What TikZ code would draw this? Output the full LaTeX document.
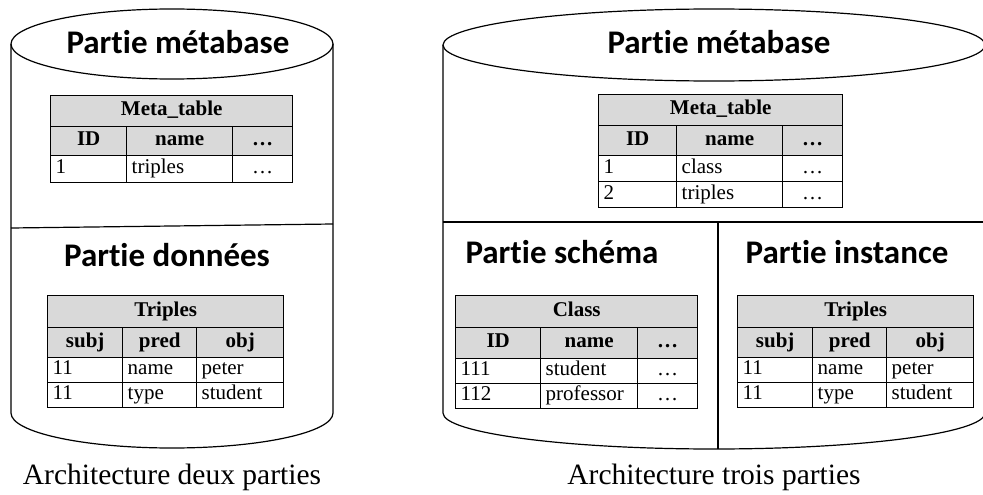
\documentclass[tikz,border=0pt]{standalone}
\usepackage{fontspec}
\setmainfont{Liberation Serif}
\newfontfamily\headfont[Ligatures=NoCommon]{Carlito}
\definecolor{cellgray}{HTML}{D9D9D9}
\newcommand{\cylline}{1.2pt}
\newcommand{\tabline}{1.4pt}

\begin{document}
\begin{tikzpicture}[x=1pt, y=-1pt,
        cell/.style     = {draw, line width=\tabline, inner xsep=3pt, inner ysep=0pt, text height=14pt, text depth=5pt, anchor=north west, font=\fontsize{21}{21}\selectfont},
        hcell/.style    = {cell, fill=cellgray, align=center, font=\fontsize{21}{21}\selectfont\bfseries},
        dcell/.style    = {cell, align=left, execute at begin node=\hspace*{2pt}},
        ccell/.style    = {cell, align=center},
        head/.style     = {font=\headfont\bfseries\fontsize{33}{33}\selectfont, anchor=base, inner sep=0pt},
        captext/.style  = {font=\fontsize{29.5}{29.5}\selectfont, anchor=base, inner sep=0pt}]
        \useasboundingbox (0,0) rectangle (983,495);
        \clip (0,0) rectangle (983,495);

        %cylinders
        \draw[line width=\cylline] (172,44) ellipse [x radius=161, y radius=35];
        \draw[line width=\cylline] (11,44) -- (11,413) arc[start angle=180, end angle=0, x radius=161, y radius=35] -- (333,44);
        \draw[line width=\cylline] (11,228) -- (333,224);

        \draw[line width=\cylline] (714,45) ellipse [x radius=271, y radius=36];
        \draw[line width=\cylline] (443,45) -- (443,413) arc[start angle=180, end angle=0, x radius=271, y radius=36] -- (985,45);
        \draw[line width=\cylline] (443,222) -- (985,222);
        \draw[line width=\cylline] (718,222) -- (718,449);

        %headings
        \node[head] (hMetaA)   at (178,54)  {Partie métabase};
        \node[head] (hDataA)   at (167,266) {Partie données};
        \node[head] (hMetaB)   at (719,54)  {Partie métabase};
        \node[head] (hSchemaB) at (562,263) {Partie schéma};
        \node[head] (hInstB)   at (847,263) {Partie instance};

        %meta table, two parts
        \node[hcell, text width=236, minimum height=31] (mtAtitle) at ( 50, 95) {Meta\_table};
        \node[hcell, text width= 70, minimum height=29] (mtAid)    at ( 50,126) {ID};
        \node[hcell, text width=100, minimum height=29] (mtAname)  at (126,126) {name};
        \node[hcell, text width= 54, minimum height=29] (mtAetc)   at (232,126) {…};
        \node[dcell, text width= 70, minimum height=27] (mtAid1)   at ( 50,155) {1};
        \node[dcell, text width=100, minimum height=27] (mtAname1) at (126,155) {triples};
        \node[ccell, text width= 54, minimum height=27] (mtAetc1)  at (232,155) {…};

        %triples table, two parts
        \node[hcell, text width=230, minimum height=32] (trAtitle) at ( 47,295) {Triples};
        \node[hcell, text width= 69, minimum height=30] (trAsubj)  at ( 47,327) {subj};
        \node[hcell, text width= 68, minimum height=30] (trApred)  at (122,327) {pred};
        \node[hcell, text width= 81, minimum height=30] (trAobj)   at (196,327) {obj};
        \node[dcell, text width= 69, minimum height=25] (trAsubj1) at ( 47,357) {11};
        \node[dcell, text width= 68, minimum height=25] (trApred1) at (122,357) {name};
        \node[dcell, text width= 81, minimum height=25] (trAobj1)  at (196,357) {peter};
        \node[dcell, text width= 69, minimum height=25] (trAsubj2) at ( 47,382) {11};
        \node[dcell, text width= 68, minimum height=25] (trApred2) at (122,382) {type};
        \node[dcell, text width= 81, minimum height=25] (trAobj2)  at (196,382) {student};

        %meta table, three parts
        \node[hcell, text width=238, minimum height=31] (mtBtitle) at (598, 94) {Meta\_table};
        \node[hcell, text width= 72, minimum height=30] (mtBid)    at (598,125) {ID};
        \node[hcell, text width=100, minimum height=30] (mtBname)  at (676,125) {name};
        \node[hcell, text width= 54, minimum height=30] (mtBetc)   at (782,125) {…};
        \node[dcell, text width= 72, minimum height=26] (mtBid1)   at (598,155) {1};
        \node[dcell, text width=100, minimum height=26] (mtBname1) at (676,155) {class};
        \node[ccell, text width= 54, minimum height=26] (mtBetc1)  at (782,155) {…};
        \node[dcell, text width= 72, minimum height=26] (mtBid2)   at (598,181) {2};
        \node[dcell, text width=100, minimum height=26] (mtBname2) at (676,181) {triples};
        \node[ccell, text width= 54, minimum height=26] (mtBetc2)  at (782,181) {…};

        %class table
        \node[hcell, text width=236, minimum height=32] (clBtitle) at (455,295) {Class};
        \node[hcell, text width= 79, minimum height=31] (clBid)    at (455,327) {ID};
        \node[hcell, text width= 91, minimum height=31] (clBname)  at (540,327) {name};
        \node[hcell, text width= 54, minimum height=31] (clBetc)   at (637,327) {…};
        \node[dcell, text width= 79, minimum height=25] (clBid1)   at (455,358) {111};
        \node[dcell, text width= 91, minimum height=25] (clBname1) at (540,358) {student};
        \node[ccell, text width= 54, minimum height=25] (clBetc1)  at (637,358) {…};
        \node[dcell, text width= 79, minimum height=25] (clBid2)   at (455,383) {112};
        \node[dcell, text width= 91, minimum height=25] (clBname2) at (540,383) {professor};
        \node[ccell, text width= 54, minimum height=25] (clBetc2)  at (637,383) {…};

        %triples table, three parts
        \node[hcell, text width=230, minimum height=32] (trBtitle) at (737,295) {Triples};
        \node[hcell, text width= 69, minimum height=30] (trBsubj)  at (737,327) {subj};
        \node[hcell, text width= 68, minimum height=30] (trBpred)  at (812,327) {pred};
        \node[hcell, text width= 81, minimum height=30] (trBobj)   at (886,327) {obj};
        \node[dcell, text width= 69, minimum height=25] (trBsubj1) at (737,357) {11};
        \node[dcell, text width= 68, minimum height=25] (trBpred1) at (812,357) {name};
        \node[dcell, text width= 81, minimum height=25] (trBobj1)  at (886,357) {peter};
        \node[dcell, text width= 69, minimum height=25] (trBsubj2) at (737,382) {11};
        \node[dcell, text width= 68, minimum height=25] (trBpred2) at (812,382) {type};
        \node[dcell, text width= 81, minimum height=25] (trBobj2)  at (886,382) {student};

        %captions
        \node[captext] (capA) at (172,484) {Architecture deux parties};
        \node[captext] (capB) at (714,484) {Architecture trois parties};
\end{tikzpicture}
\end{document}
